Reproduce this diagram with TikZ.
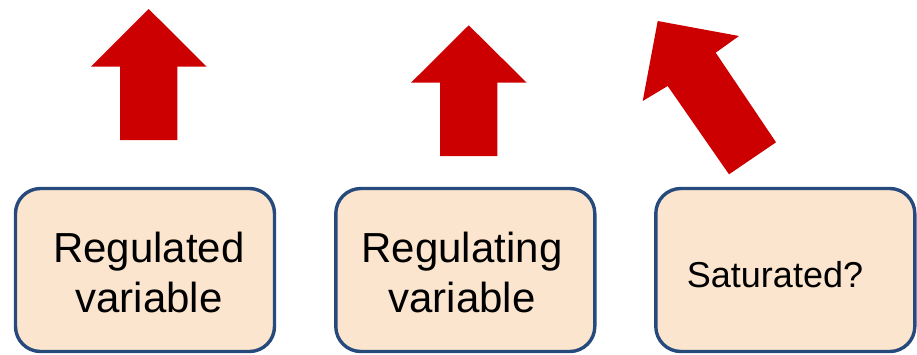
\documentclass[tikz,border=0pt]{standalone}
\usepackage{fontspec}
\setmainfont{Liberation Sans}
\definecolor{arrowred}{RGB}{204,0,0}
\definecolor{boxfill}{RGB}{252,229,206}
\definecolor{boxline}{RGB}{38,74,124}
\begin{document}
\begin{tikzpicture}[x=1pt,y=-1pt,
  varbox/.style={draw=boxline,fill=boxfill,line width=3.4pt,rounded corners=25pt,
    minimum width=259pt,minimum height=163pt,inner sep=0pt},
  bigtext/.style={font=\fontsize{42}{50}\selectfont,align=center,inner sep=0pt},
  smalltext/.style={font=\fontsize{36}{43}\selectfont,inner sep=0pt},
  uparrow/.style={fill=arrowred,draw=none}]
\useasboundingbox (0,0) rectangle (917,354);
% boxes
\node[varbox] (b1) at (145,270) {};
\node[varbox] (b2) at (465.3,270) {};
\node[varbox] (b3) at (785.3,270) {};
% texts
\node[bigtext] (t1) at (149,272) {Regulated\\variable};
\node[bigtext] (t2) at (462,272) {Regulating\\variable};
\node[smalltext,anchor=base] (t3) at (775,287.3) {Saturated?};
% arrows
\fill[uparrow] (148.7,9) -- (206.7,66.7) -- (177.3,66.7) -- (177.3,140) -- (120,140) -- (120,66.7) -- (91,66.7) -- cycle;
\fill[uparrow] (468.7,25.3) -- (526.7,82.7) -- (497.3,82.7) -- (497.3,156) -- (440,156) -- (440,82.7) -- (411,82.7) -- cycle;
\fill[uparrow] (657.7,21) -- (739,36) -- (715.7,52.7) -- (776,142.3) -- (729,174.3) -- (667.7,86) -- (642.7,101) -- cycle;
\end{tikzpicture}
\end{document}
